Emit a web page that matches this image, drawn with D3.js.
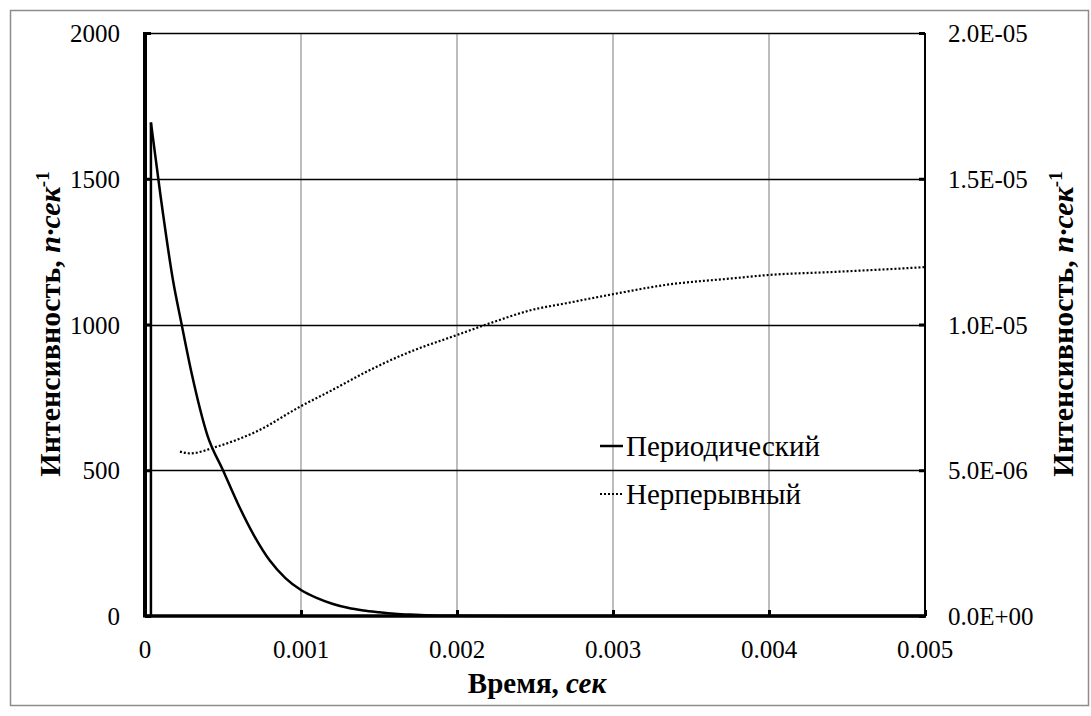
<!DOCTYPE html>
<html>
<head>
<meta charset="utf-8">
<script src="https://cdn.jsdelivr.net/npm/d3@7"></script>
</head>
<body style="margin:0">
<script>
// Data
const xTicks = [0, 0.001, 0.002, 0.003, 0.004, 0.005]
const xTickLabels = ['0', '0.001', '0.002', '0.003', '0.004', '0.005']
const yLeftTicks = [0, 500, 1000, 1500, 2000]
const yRightTicks = [0, 5e-6, 1e-5, 1.5e-5, 2e-5]
const yRightLabels = ['0.0E+00', '5.0E-06', '1.0E-05', '1.5E-05', '2.0E-05']

// Periodic: rise then decay
const periodicRiseTime = [0, 0.000038, 0.000038]
const periodicRiseValue = [0, 0, 1693]
const periodicTime = [0.000038, 0.0001, 0.00018, 0.000235, 0.0003, 0.0004, 0.0005, 0.0006, 0.0007, 0.0008, 0.0009, 0.001, 0.0011, 0.0012, 0.0013, 0.0014, 0.0015, 0.0016, 0.0017, 0.0018, 0.002, 0.0025, 0.005]
const periodicValue = [1693, 1440, 1150, 1000, 830, 620, 500, 380, 275, 190, 130, 89, 62, 42, 28, 19, 13, 8, 5, 3, 1, 0, 0]

// Continuous (right axis)
const continuousTime = [0.000224, 0.000288, 0.00046, 0.000715, 0.001, 0.0012, 0.00142, 0.00167, 0.002, 0.00221, 0.00248, 0.0027, 0.003, 0.00334, 0.00376, 0.004, 0.0044, 0.00497, 0.005]
const continuousValue = [5.64e-6, 5.58e-6, 5.81e-6, 6.33e-6, 7.2e-6, 7.75e-6, 8.38e-6, 9.0e-6, 9.64e-6, 1.004e-5, 1.05e-5, 1.073e-5, 1.104e-5, 1.136e-5, 1.158e-5, 1.17e-5, 1.18e-5, 1.196e-5, 1.197e-5]

const width = 1091, height = 716
const margin = { top: 33, right: 166, bottom: 100, left: 145 }
const chartRight = width - margin.right
const chartBottom = height - margin.bottom
const fontName = "'Liberation Serif', 'Times New Roman', serif"

const svg = d3.select('body').append('svg')
    .attr('width', width)
    .attr('height', height)
    .style('display', 'block')

// Outer frame
svg.append('rect')
    .attr('x', 10.5).attr('y', 10.5)
    .attr('width', 1078).attr('height', 695)
    .attr('fill', '#fff')
    .attr('stroke', '#8c8c8c')
    .attr('stroke-width', 1.5)

// Scales
const x = d3.scaleLinear().domain([0, 0.005]).range([margin.left, chartRight])
const yLeft = d3.scaleLinear().domain([0, 2000]).range([chartBottom, margin.top])
const yRight = d3.scaleLinear().domain([0, 2e-5]).range([chartBottom, margin.top])

// Vertical gridlines (gray)
svg.append('g')
    .selectAll('line')
    .data(xTicks.slice(1, -1))
    .join('line')
    .attr('x1', d => x(d)).attr('x2', d => x(d))
    .attr('y1', margin.top).attr('y2', chartBottom)
    .attr('stroke', '#9a9a9a')
    .attr('stroke-width', 1.3)

// Horizontal gridlines (black)
svg.append('g')
    .selectAll('line')
    .data(yLeftTicks.slice(1))
    .join('line')
    .attr('x1', margin.left).attr('x2', chartRight)
    .attr('y1', d => Math.round(yLeft(d)) + 0.5).attr('y2', d => Math.round(yLeft(d)) + 0.5)
    .attr('stroke', '#000')
    .attr('stroke-width', 1.3)

// Axes (tick marks only, labels drawn below)
const leftAxis = d3.axisRight(yLeft).tickValues(yLeftTicks).tickSize(6).tickFormat('')
const rightAxis = d3.axisLeft(yRight).tickValues(yRightTicks).tickSize(6).tickFormat('')
const bottomAxis = d3.axisTop(x).tickValues(xTicks).tickSize(6).tickFormat('')

for (const [axis, tx, ty] of [[leftAxis, margin.left, 0], [rightAxis, chartRight, 0], [bottomAxis, 0, chartBottom]]) {
    const g = svg.append('g').attr('transform', `translate(${tx},${ty})`).call(axis)
    g.select('.domain').remove()
    g.selectAll('text').remove()
    g.selectAll('line').attr('stroke-width', 3)
}

svg.append('line')
    .attr('x1', margin.left).attr('x2', margin.left)
    .attr('y1', margin.top - 1).attr('y2', chartBottom + 1.5)
    .attr('stroke', '#000').attr('stroke-width', 4)
svg.append('line')
    .attr('x1', chartRight).attr('x2', chartRight)
    .attr('y1', margin.top).attr('y2', chartBottom)
    .attr('stroke', '#000').attr('stroke-width', 2)
svg.append('line')
    .attr('x1', margin.left).attr('x2', chartRight + 1)
    .attr('y1', chartBottom).attr('y2', chartBottom)
    .attr('stroke', '#000').attr('stroke-width', 3.5)

const serifText = sel => sel.attr('font-family', fontName)

// Tick labels
svg.append('g')
    .selectAll('text')
    .data(yLeftTicks)
    .join('text')
    .call(serifText)
    .attr('x', 120)
    .attr('y', d => yLeft(d) + 9)
    .attr('text-anchor', 'end')
    .attr('font-size', 25)
    .text(d => d)

svg.append('g')
    .selectAll('text')
    .data(yRightTicks)
    .join('text')
    .call(serifText)
    .attr('x', 948)
    .attr('y', d => yRight(d) + 9)
    .attr('font-size', 25)
    .text((d, i) => yRightLabels[i])

svg.append('g')
    .selectAll('text')
    .data(xTicks)
    .join('text')
    .call(serifText)
    .attr('x', d => x(d))
    .attr('y', 658)
    .attr('text-anchor', 'middle')
    .attr('font-size', 25)
    .text((d, i) => xTickLabels[i])

// Series
const lineLeft = d3.line()
    .x(p => x(p[0]))
    .y(p => yLeft(p[1]))

svg.append('path')
    .attr('d', lineLeft(d3.zip(periodicRiseTime, periodicRiseValue)))
    .attr('fill', 'none').attr('stroke', '#000').attr('stroke-width', 2.5)

svg.append('path')
    .attr('d', lineLeft.curve(d3.curveMonotoneX)(d3.zip(periodicTime, periodicValue)))
    .attr('fill', 'none').attr('stroke', '#000').attr('stroke-width', 2.5)

const lineRight = d3.line()
    .x(p => x(p[0]))
    .y(p => yRight(p[1]))
    .curve(d3.curveMonotoneX)

svg.append('path')
    .attr('d', lineRight(d3.zip(continuousTime, continuousValue)))
    .attr('fill', 'none').attr('stroke', '#000').attr('stroke-width', 2.2)
    .attr('stroke-dasharray', '2,2')

// Legend
svg.append('line')
    .attr('x1', 600).attr('x2', 623).attr('y1', 446).attr('y2', 446)
    .attr('stroke', '#000').attr('stroke-width', 2.5)
svg.append('text')
    .call(serifText)
    .attr('x', 626).attr('y', 456)
    .attr('font-size', 29)
    .text('Периодический')
svg.append('line')
    .attr('x1', 600).attr('x2', 623).attr('y1', 494).attr('y2', 494)
    .attr('stroke', '#000').attr('stroke-width', 2.2)
    .attr('stroke-dasharray', '2,2')
svg.append('text')
    .call(serifText)
    .attr('x', 626).attr('y', 504)
    .attr('font-size', 29)
    .text('Нерперывный')

// Axis titles
const xTitle = svg.append('text')
    .call(serifText)
    .attr('x', 537).attr('y', 693)
    .attr('text-anchor', 'middle')
    .attr('font-size', 29).attr('font-weight', 'bold')
xTitle.append('tspan').text('Время, ')
xTitle.append('tspan').attr('font-style', 'italic').text('сек')

const yTitle = (tx) => {
    const t = svg.append('text')
        .call(serifText)
        .attr('transform', `translate(${tx},324) rotate(-90)`)
        .attr('text-anchor', 'middle')
        .attr('font-size', 30).attr('font-weight', 'bold')
    t.append('tspan').text('Интенсивность, ')
    t.append('tspan').attr('font-style', 'italic').text('n·сек')
    t.append('tspan').attr('font-size', 19).attr('dy', -11).text('-1')
}
yTitle(60)
yTitle(1073)
</script>
</body>
</html>
